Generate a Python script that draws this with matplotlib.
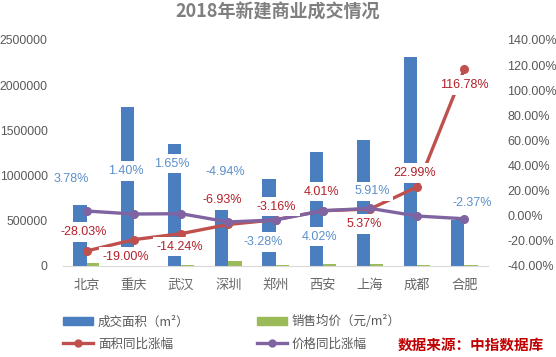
import matplotlib
matplotlib.use('Agg')
import matplotlib.pyplot as plt
from matplotlib.patches import Patch
from matplotlib.lines import Line2D
import numpy as np

plt.rcParams['font.family'] = ['Noto Sans CJK SC', 'DejaVu Sans']
num_font = ['Liberation Sans', 'DejaVu Sans']

cities = ['北京', '重庆', '武汉', '深圳', '郑州', '西安', '上海', '成都', '合肥']
area = [675000, 1760000, 1350000, 630000, 960000, 1260000, 1390000, 2310000, 510000]
price = [35000, 15000, 13000, 50000, 12000, 20000, 25000, 12000, 13000]
area_yoy = [-28.03, -19.00, -14.24, -6.93, -3.16, 4.01, 5.37, 22.99, 116.78]
price_yoy = [3.78, 1.40, 1.65, -4.94, -3.28, 4.02, 5.91, -0.20, -2.37]
price_yoy_show = [True, True, True, True, True, True, True, False, True]

# label offsets in pixels (dx, dy) from each marker
area_off = [(-3, 19), (-8, -17), (-1, -13), (-6, 24), (1, 13), (-1, 19), (-6, -15), (-3, 14), (0, -16)]
price_off = [(-15, 32), (-8, 43), (-9, 50), (-3, 50), (-12, -22), (-3, -26), (2, 17), (0, 0), (8, 16)]

blue = '#4a7ebf'
green = '#9bbb59'
red = '#c0504d'
purple = '#8064a2'
grey = '#595959'

fig = plt.figure(figsize=(5.56, 3.57), dpi=100)
ax = fig.add_axes([63 / 556, 1 - 266 / 357, 425 / 556, 226 / 357])
x = np.arange(len(cities))
w = 0.28
ax.bar(x - w / 2, area, w, color=blue, zorder=2)
ax.bar(x + w / 2, price, w, color=green, zorder=2)
ax.set_xlim(-0.5, len(cities) - 0.5)
ax.set_ylim(0, 2500000)
lticks = np.arange(0, 2500001, 500000)
ax.set_yticks(lticks)
ax.set_yticklabels([f'{v:d}' for v in lticks], fontfamily=num_font)
ax.set_xticks(x)
ax.set_xticklabels(cities)
ax.tick_params(axis='y', length=0, pad=11, labelsize=8.8, labelcolor=grey)
ax.tick_params(axis='x', length=0, pad=9, labelsize=9.5, labelcolor='#666666')
for s in ['top', 'left', 'right']:
    ax.spines[s].set_visible(False)
ax.spines['bottom'].set_color('#d9d9d9')

ax2 = ax.twinx()
ax2.set_ylim(-40, 140)
ticks = np.arange(-40, 141, 20)
ax2.set_yticks(ticks)
ax2.set_yticklabels([f'{t:.2f}%' for t in ticks], fontfamily=num_font)
ax2.tick_params(axis='y', length=0, pad=14, labelsize=9, labelcolor=grey)
for s in ax2.spines.values():
    s.set_visible(False)

ax2.plot(x, area_yoy, color=red, lw=2.4, marker='o', ms=5.5, zorder=3)
ax2.plot(x, price_yoy, color=purple, lw=2.4, marker='o', ms=5.5, zorder=3)

box = dict(boxstyle='square,pad=0.3', fc='white', ec='none')
for i, v in enumerate(area_yoy):
    ax2.annotate(f'{v:.2f}%', (x[i], v), xytext=area_off[i], textcoords='offset pixels',
                 ha='center', va='center', fontsize=9, fontfamily=num_font,
                 color='#b3202a', bbox=box, zorder=5)
for i, v in enumerate(price_yoy):
    if price_yoy_show[i]:
        ax2.annotate(f'{v:.2f}%', (x[i], v), xytext=price_off[i], textcoords='offset pixels',
                     ha='center', va='center', fontsize=9, fontfamily=num_font,
                     color='#5b8fc9', bbox=box, zorder=5)

fig.text(0.5, 1 - 12 / 357, '2018年新建商业成交情况', ha='center', va='center',
         fontsize=13, fontweight='bold', color='#7f7f7f')

leg_kw = dict(loc='center left', frameon=False, fontsize=9, labelcolor=grey, borderpad=0,
              handlelength=2.4, handletextpad=0.4, labelspacing=0.75, borderaxespad=0)
h1 = [Patch(color=blue), Line2D([], [], color=red, lw=2.4, marker='o', ms=5)]
fig.legend(h1, ['成交面积（m²）', '面积同比涨幅'], bbox_to_anchor=(63 / 556, 1 - 333 / 357), **leg_kw)
h2 = [Patch(color=green), Line2D([], [], color=purple, lw=2.4, marker='o', ms=5)]
fig.legend(h2, ['销售均价（元/m²）', '价格同比涨幅'], bbox_to_anchor=(257 / 556, 1 - 333 / 357), **leg_kw)

fig.text(398 / 556, 1 - 345 / 357, '数据来源：中指数据库', ha='left', va='center',
         fontsize=10.5, fontweight='bold', style='italic', color='#c00000')

fig.savefig('out.png', dpi=100)
